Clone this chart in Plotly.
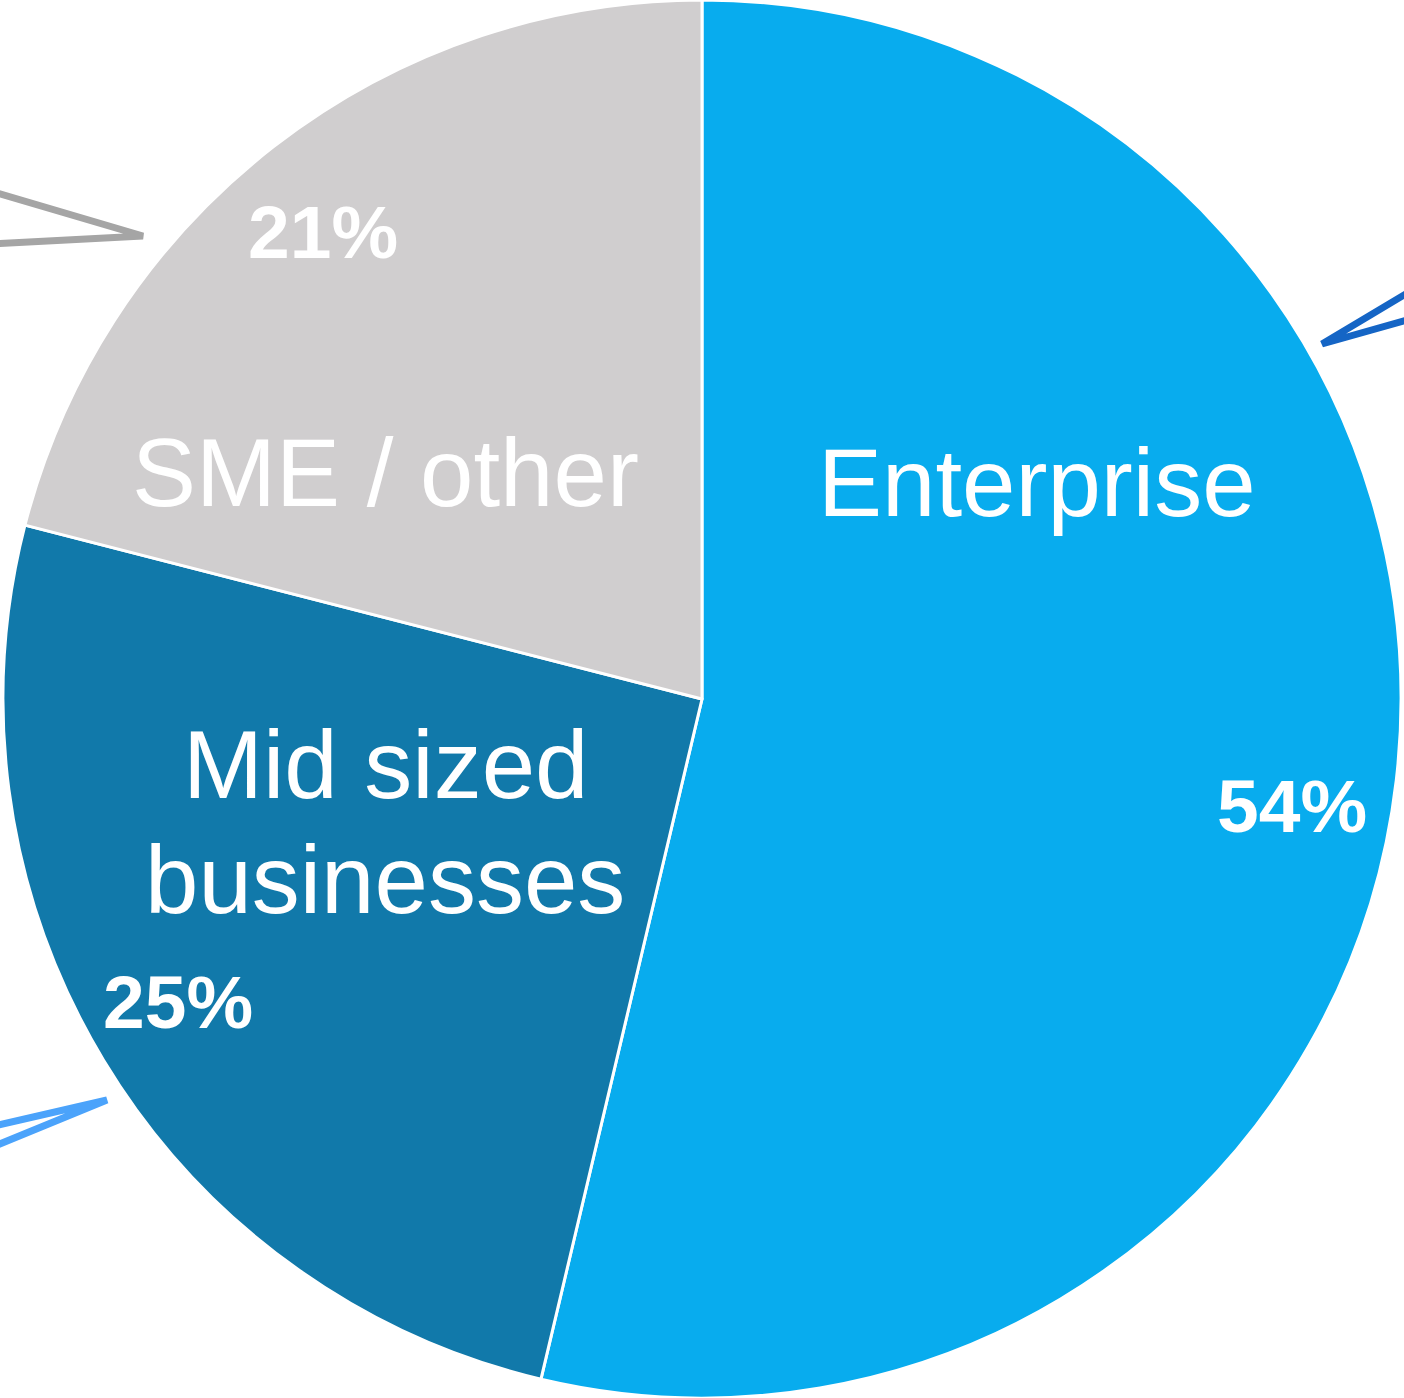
import plotly.graph_objects as go

# Data
categories = ["Enterprise", "Mid sized businesses", "SME / other"]
values = [53.7, 25.3, 21.0]
pct_labels = ["54%", "25%", "21%"]
colors = ["#08ACEE", "#1179AA", "#D0CECF"]

W, H = 1404, 1398

fig = go.Figure(go.Pie(
    labels=categories,
    values=values,
    sort=False,
    direction="clockwise",
    rotation=0,
    marker=dict(colors=colors, line=dict(color="white", width=3)),
    textinfo="none",
    hoverinfo="label+percent",
    showlegend=False,
    domain=dict(x=[0, 1], y=[0, 1]),
))


def px(x, y):
    return x / W, 1 - y / H


FONT = "Liberation Sans, Arial, sans-serif"

# Category name lines (placed as in the reference)
name_lines = {
    "Enterprise": [(1037, 482, "Enterprise")],
    "Mid sized businesses": [(385, 765, "Mid sized"), (385, 879, "businesses")],
    "SME / other": [(385, 472, "SME / other")],
}
pct_pos = {
    "Enterprise": (1292, 806),
    "Mid sized businesses": (178, 1002),
    "SME / other": (323, 232),
}

annotations = []
for cat, pl in zip(categories, pct_labels):
    for x, y, txt in name_lines[cat]:
        ax, ay = px(x, y)
        annotations.append(dict(
            x=ax, y=ay, xref="paper", yref="paper", text=txt, showarrow=False,
            xanchor="center", yanchor="middle",
            font=dict(family=FONT, size=96, color="white"),
        ))
    x, y = pct_pos[cat]
    ax, ay = px(x, y)
    annotations.append(dict(
        x=ax, y=ay, xref="paper", yref="paper", text=f"<b>{pl}</b>", showarrow=False,
        xanchor="center", yanchor="middle",
        font=dict(family=FONT, size=75, color="white"),
    ))


def path(points):
    parts = []
    for i, (x, y) in enumerate(points):
        a, b = px(x, y)
        parts.append(("M" if i == 0 else "L") + f"{a:.5f},{b:.5f}")
    return " ".join(parts)


shapes = [
    dict(type="path", xref="paper", yref="paper",
         path=path([(-10, 191), (143, 236), (-10, 244)]),
         line=dict(color="#A5A5A5", width=7)),
    dict(type="path", xref="paper", yref="paper",
         path=path([(1414, 289), (1322, 344), (1414, 318)]),
         line=dict(color="#1565C5", width=7)),
    dict(type="path", xref="paper", yref="paper",
         path=path([(-10, 1127), (107, 1100), (-10, 1148)]),
         line=dict(color="#4BA3FB", width=7)),
]

fig.update_layout(
    width=W, height=H,
    margin=dict(l=0, r=0, t=0, b=0),
    paper_bgcolor="white",
    plot_bgcolor="white",
    annotations=annotations,
    shapes=shapes,
)

fig.write_html(
    "out.html",
    config={"displayModeBar": False},
    post_script="document.body.style.margin='0';document.body.style.overflow='hidden';",
)
